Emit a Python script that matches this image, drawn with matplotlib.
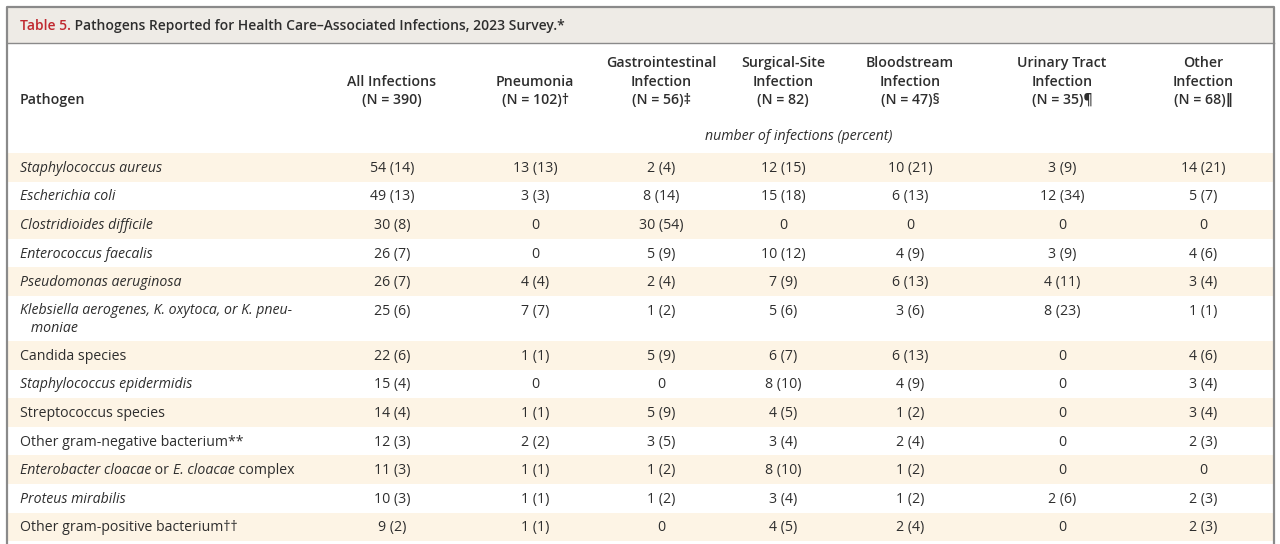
import matplotlib
matplotlib.use("Agg")
import matplotlib.pyplot as plt
from matplotlib.patches import Rectangle

FONT = ["Open Sans", "DejaVu Sans"]
plt.rcParams["font.family"] = FONT

title_red = "Table 5."
title_rest = " Pathogens Reported for Health Care\u2013Associated Infections, 2023 Survey.*"

col_headers = [
    ["All Infections", "(N = 390)"],
    ["Pneumonia", "(N = 102)\u2020"],
    ["Gastrointestinal", "Infection", "(N = 56)\u2021"],
    ["Surgical-Site", "Infection", "(N = 82)"],
    ["Bloodstream", "Infection", "(N = 47)\u00a7"],
    ["Urinary Tract", "Infection", "(N = 35)\u00b6"],
    ["Other", "Infection", "(N = 68)\u2016"],
]
units_label = "number of infections (percent)"

# pathogen names as (text, italic) segments; "\n" splits lines
pathogens = [
    [("Staphylococcus aureus", True)],
    [("Escherichia coli", True)],
    [("Clostridioides difficile", True)],
    [("Enterococcus faecalis", True)],
    [("Pseudomonas aeruginosa", True)],
    [("Klebsiella aerogenes, K. oxytoca, or K. pneu-\n   moniae", True)],
    [("Candida species", False)],
    [("Staphylococcus epidermidis", True)],
    [("Streptococcus species", False)],
    [("Other gram-negative bacterium**", False)],
    [("Enterobacter cloacae", True), (" or ", False), ("E. cloacae", True), (" complex", False)],
    [("Proteus mirabilis", True)],
    [("Other gram-positive bacterium\u2020\u2020", False)],
]

all_inf = ["54 (14)", "49 (13)", "30 (8)", "26 (7)", "26 (7)", "25 (6)", "22 (6)",
           "15 (4)", "14 (4)", "12 (3)", "11 (3)", "10 (3)", "9 (2)"]
pneumonia = ["13 (13)", "3 (3)", "0", "0", "4 (4)", "7 (7)", "1 (1)",
             "0", "1 (1)", "2 (2)", "1 (1)", "1 (1)", "1 (1)"]
gastro = ["2 (4)", "8 (14)", "30 (54)", "5 (9)", "2 (4)", "1 (2)", "5 (9)",
          "0", "5 (9)", "3 (5)", "1 (2)", "1 (2)", "0"]
surgical = ["12 (15)", "15 (18)", "0", "10 (12)", "7 (9)", "5 (6)", "6 (7)",
            "8 (10)", "4 (5)", "3 (4)", "8 (10)", "3 (4)", "4 (5)"]
blood = ["10 (21)", "6 (13)", "0", "4 (9)", "6 (13)", "3 (6)", "6 (13)",
         "4 (9)", "1 (2)", "2 (4)", "1 (2)", "1 (2)", "2 (4)"]
urinary = ["3 (9)", "12 (34)", "0", "3 (9)", "4 (11)", "8 (23)", "0",
           "0", "0", "0", "0", "2 (6)", "0"]
other = ["14 (21)", "5 (7)", "0", "4 (6)", "3 (4)", "1 (1)", "4 (6)",
         "3 (4)", "3 (4)", "2 (3)", "0", "2 (3)", "2 (3)"]
columns = [all_inf, pneumonia, gastro, surgical, blood, urinary, other]

# ---- layout ----
W, H = 1280, 544
fig = plt.figure(figsize=(W / 100, H / 100), dpi=100)
ax = fig.add_axes([0, 0, 1, 1])
ax.set_xlim(0, W)
ax.set_ylim(H, 0)
ax.axis("off")

TXT = "#2e2e2e"
SHADE = "#fdf4e5"
BAND = "#eeebe6"
BORDER = "#8a8a8a"
RED = "#c0282f"
FS = 10.2

left, right, top = 7, 1274, 7
title_bottom = 43

# title band
ax.add_patch(Rectangle((left, top), right - left, title_bottom - top, facecolor=BAND,
                       edgecolor="none", zorder=0))
ax.plot([left, right], [title_bottom, title_bottom], color=BORDER, lw=1.0, zorder=3)
ax.plot([left, left, right, right], [H + 5, top, top, H + 5], color=BORDER, lw=1.6, zorder=3)

fig.canvas.draw()
renderer = fig.canvas.get_renderer()


def seg_text(x, y, segments, fs, color, weight="normal", va="center"):
    cur = x
    for s, it in segments:
        t = ax.text(cur, y, s, fontsize=fs, color=color, fontweight=weight,
                    style="italic" if it else "normal", ha="left", va=va, zorder=4)
        bb = t.get_window_extent(renderer=renderer)
        inv = ax.transData.inverted()
        x0 = inv.transform((bb.x0, bb.y0))[0]
        x1 = inv.transform((bb.x1, bb.y0))[0]
        cur = cur + (x1 - x0)
    return cur


TFS = 10.0
end_red = seg_text(20, 26, [(title_red, False)], TFS, RED, weight="semibold")
ax.text(end_red, 26, title_rest, fontsize=TFS, color=TXT, fontweight="semibold",
        ha="left", va="center", zorder=4)

# header
col_x = [392, 535, 661, 783, 910, 1062, 1203]
line_y = [63, 82, 100]
ax.text(20, 100, "Pathogen", fontsize=FS, color=TXT, fontweight="semibold",
        ha="left", va="center")
for cx, lines in zip(col_x, col_headers):
    offs = line_y[3 - len(lines):]
    for ly, s in zip(offs, lines):
        ax.text(cx, ly, s, fontsize=FS, color=TXT, fontweight="semibold",
                ha="center", va="center")
ax.text(799, 136, units_label, fontsize=FS, color=TXT, style="italic",
        ha="center", va="center")

# body rows
row_top = 153
rh = 28.6
heights = [rh] * len(pathogens)
heights[5] = 45
y = row_top
for i, segs in enumerate(pathogens):
    h = heights[i]
    if i % 2 == 0:
        ax.add_patch(Rectangle((left + 1, y), right - left - 2, h, facecolor=SHADE,
                               edgecolor="none", zorder=0))
    if h > rh:
        ty = y + 15
        yv = y + 15
        text = segs[0][0]
        l1, l2 = text.split("\n")
        ax.text(20, ty, l1, fontsize=FS, color=TXT, style="italic", ha="left", va="center")
        ax.text(20, ty + 17, l2, fontsize=FS, color=TXT, style="italic", ha="left", va="center")
    else:
        ty = y + h / 2 + 1
        yv = ty
        seg_text(20, ty, segs, FS, TXT)
    for cx, col in zip(col_x, columns):
        ax.text(cx, yv, col[i], fontsize=FS, color=TXT, ha="center", va="center")
    y += h

fig.savefig("out.png", dpi=100, facecolor="white")
